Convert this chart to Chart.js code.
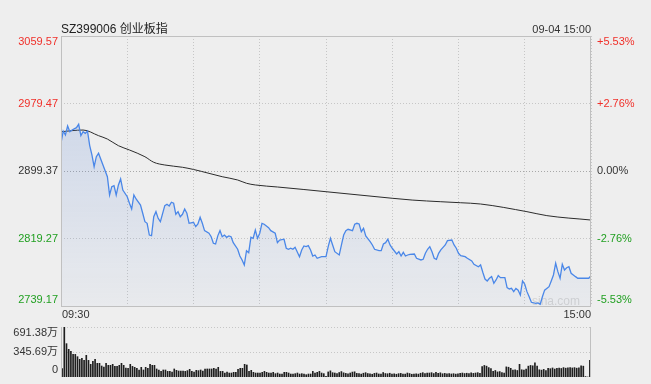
<!DOCTYPE html>
<html>
<head>
<meta charset="utf-8">
<script src="https://cdn.jsdelivr.net/npm/chart.js@4.4.0/dist/chart.umd.min.js"></script>
<style>
    body { margin: 0; background: #eeeeee; }
    #wrap { position: relative; width: 651px; height: 384px; }
    #wrap canvas { position: absolute; left: 0; top: 0; }
</style>
</head>
<body>
<div id="wrap">
    <canvas id="priceChart" width="651" height="384"></canvas>
    <canvas id="volChart" width="651" height="384"></canvas>
</div>
<script>
// Axis values
const prevClose = 2899.37;
const priceTicks = [3059.57, 2979.47, 2899.37, 2819.27, 2739.17];
const pctLabels = ['+5.53%', '+2.76%', '0.00%', '-2.76%', '-5.53%'];
const gridMinutes = [0, 30, 60, 90, 120, 150, 180, 210, 240]; // minutes since 09:30 (lunch break removed)
const timeLabels = ['09:30', '15:00'];
const volTicks = [691.38, 345.69, 0];
const volLabels = ['691.38万', '345.69万', '0'];

// Price line (minute index, price)
const priceTimes = [
    0, 1, 2, 3, 4, 5, 7, 8, 9, 10, 11, 12, 13, 14, 15, 16, 17, 19, 21, 22,
    23, 24, 25, 26, 27, 28, 30, 31, 32, 33, 34, 36, 37, 38, 39, 40, 41, 42, 43, 44,
    45, 47, 48, 49, 50, 51, 52, 53, 54, 55, 56, 57, 58, 60, 61, 62, 63, 64, 65, 67,
    68, 69, 70, 71, 72, 73, 74, 75, 76, 77, 78, 80, 81, 82, 83, 84, 85, 86, 87, 88,
    89, 90, 91, 92, 94, 95, 97, 98, 99, 101, 102, 103, 104, 105, 106, 108, 109, 110, 111, 112,
    113, 114, 115, 116, 118, 120, 121, 122, 123, 124, 126, 127, 128, 129, 130, 132, 133, 134, 135, 136,
    137, 138, 140, 141, 142, 144, 145, 146, 147, 148, 149, 150, 152, 153, 154, 155, 156, 157, 158, 160,
    161, 163, 164, 165, 166, 167, 168, 169, 170, 171, 172, 174, 175, 177, 178, 179, 180, 181, 183, 184,
    186, 187, 189, 190, 191, 192, 193, 194, 195, 196, 197, 198, 199, 201, 202, 203, 204, 205, 206, 207,
    208, 209, 210, 211, 212, 213, 215, 216, 217, 218, 219, 221, 222, 223, 224, 225, 226, 227, 228, 229,
    230, 231, 233, 234, 236, 237, 238, 239, 240
];
const priceValues = [
    2932.3, 2946.8, 2942.1, 2952.8, 2946.0, 2948.0, 2950.8, 2954.8, 2941.3, 2946.0, 2944.1, 2946.8, 2929.6, 2918.4, 2904.5, 2916.3, 2920.4, 2906.5, 2892.6, 2870.9,
    2880.8, 2882.0, 2870.9, 2882.8, 2889.9, 2876.8, 2868.9, 2861.1, 2854.3, 2870.9, 2866.2, 2859.0, 2849.2, 2839.2, 2837.3, 2823.4, 2822.6, 2845.1, 2851.1, 2843.2,
    2839.2, 2858.2, 2859.9, 2857.9, 2862.3, 2861.1, 2848.0, 2851.1, 2845.1, 2848.0, 2854.3, 2849.2, 2837.3, 2838.5, 2833.3, 2836.5, 2844.5, 2837.3, 2828.6, 2825.5,
    2821.4, 2813.6, 2812.8, 2822.4, 2828.6, 2821.4, 2823.4, 2820.7, 2822.4, 2821.4, 2814.3, 2806.5, 2798.5, 2793.8, 2787.9, 2804.8, 2802.4, 2820.7, 2819.5, 2829.4,
    2819.5, 2825.5, 2837.3, 2836.2, 2832.1, 2828.6, 2825.5, 2814.3, 2817.5, 2818.4, 2807.7, 2806.5, 2807.7, 2806.5, 2808.9, 2797.7, 2805.7, 2810.4, 2809.6, 2810.8,
    2805.7, 2798.5, 2799.7, 2795.8, 2797.7, 2797.7, 2809.6, 2819.5, 2811.6, 2803.6, 2799.7, 2811.6, 2823.4, 2828.6, 2830.2, 2828.6, 2836.2, 2837.3, 2836.5, 2827.4,
    2831.4, 2822.4, 2815.5, 2811.6, 2806.5, 2804.8, 2804.8, 2812.8, 2814.3, 2818.4, 2811.6, 2807.7, 2800.9, 2803.6, 2798.5, 2802.9, 2798.5, 2799.7, 2800.5, 2800.9,
    2795.8, 2793.8, 2794.6, 2801.7, 2806.5, 2809.6, 2803.6, 2795.8, 2794.6, 2801.7, 2805.7, 2811.6, 2816.7, 2817.5, 2811.6, 2807.7, 2801.7, 2798.9, 2797.7, 2795.8,
    2792.6, 2788.7, 2785.8, 2787.9, 2779.2, 2771.2, 2768.9, 2772.1, 2774.0, 2766.1, 2770.1, 2775.2, 2772.8, 2772.8, 2760.9, 2759.4, 2760.1, 2756.2, 2760.1, 2758.0,
    2752.3, 2768.9, 2765.0, 2756.2, 2750.2, 2743.6, 2742.4, 2742.8, 2741.2, 2750.2, 2758.0, 2762.1, 2768.9, 2776.0, 2789.9, 2779.9, 2772.1, 2788.7, 2781.9, 2784.6,
    2785.8, 2778.0, 2774.0, 2772.1, 2772.1, 2772.1, 2772.1, 2772.1, 2775.2
];

// Average price line
const avgTimes = [0, 10, 17, 21, 26, 31, 38, 42, 47, 55, 60, 67, 73, 80, 84, 88, 98, 110, 120, 150, 159, 172, 181, 190, 211, 220, 240];
const avgValues = [2946.0, 2948.0, 2941.3, 2937.3, 2929.4, 2924.3, 2916.3, 2909.7, 2906.5, 2903.8, 2901.2, 2896.6, 2892.6, 2888.7, 2884.8, 2882.8, 2880.4, 2877.4, 2874.8, 2867.0, 2864.9, 2862.9, 2861.7, 2860.2, 2851.1, 2846.4, 2841.2];

// Volume per minute (万), 09:30-11:30 then 13:01-15:00
const volMorning = [
    115, 691.38, 461, 383, 355, 313, 313, 281, 244, 258,
    230, 300, 230, 175, 217, 244, 189, 189, 152, 138,
    189, 161, 161, 175, 147, 147, 161, 189, 161, 124,
    120, 175, 147, 134, 120, 97, 134, 97, 134, 120,
    175, 161, 161, 111, 97, 78, 97, 97, 78, 78,
    69, 111, 92, 83, 83, 83, 78, 88, 106, 78,
    69, 92, 88, 97, 83, 111, 111, 111, 111, 120,
    111, 134, 78, 78, 55, 69, 55, 55, 65, 65,
    106, 120, 120, 175, 166, 78, 92, 65, 55, 55,
    55, 65, 78, 65, 55, 55, 65, 46, 55, 41,
    41, 65, 65, 55, 41, 41, 46, 55, 41, 46,
    41, 32, 41, 41, 78, 55, 65, 78, 55, 46,
    9
];
const volAfternoon = [
    70, 85, 60, 55, 48, 62, 75, 58, 50, 45,
    55, 68, 72, 50, 46, 40, 52, 60, 48, 44,
    38, 50, 55, 42, 40, 62, 48, 45, 52, 40,
    44, 38, 46, 50, 42, 40, 55, 48, 38, 42,
    45, 40, 52, 60, 48, 55, 55, 60, 48, 65,
    52, 58, 45, 50, 44, 48, 42, 46, 40, 45,
    50, 55, 48, 52, 46, 58, 50, 55, 60, 52,
    145, 160, 150, 130, 115, 80, 90, 70, 75, 60,
    55, 140, 135, 120, 95, 100, 90, 175, 100, 95,
    110, 150, 160, 155, 195, 150, 100, 95, 105, 90,
    120, 115, 125, 110, 120, 125, 118, 130, 122, 128,
    130, 125, 130, 122, 128, 155, 150, 6, 0, 230
];
const volumes = volMorning.concat(volAfternoon);

const FONT = 'Arial, "Liberation Sans", "Noto Sans CJK SC", sans-serif';
const RED = '#f0302a';
const GREEN = '#22a022';
const DARK = '#333333';
const GRID = '#c6c6c6';
const FRAME = '#c0c0c0';

function signColor(v) {
    if (v > prevClose) return RED;
    if (v < prevClose) return GREEN;
    return DARK;
}

// Frame, axis labels, title, watermark
const priceDecor = {
    id: 'priceDecor',
    beforeDatasetsDraw(chart) {
        const { ctx, chartArea: a } = chart;
        ctx.save();
        ctx.font = '12px ' + FONT;
        ctx.fillStyle = '#d2d2d2';
        ctx.textAlign = 'right';
        ctx.textBaseline = 'alphabetic';
        ctx.fillText('sina.com', a.right - 11, a.bottom - 1);
        ctx.restore();
    },
    afterDraw(chart) {
        const { ctx, chartArea: a, scales: { y } } = chart;
        ctx.save();
        ctx.strokeStyle = FRAME;
        ctx.lineWidth = 1;
        ctx.strokeRect(a.left + 0.5, a.top + 0.5, a.right - a.left - 1, a.bottom - a.top);

        ctx.font = '11px ' + FONT;
        ctx.textBaseline = 'middle';
        priceTicks.forEach((v, i) => {
            let py = y.getPixelForValue(v);
            if (i === 0) py += 6;
            if (i === priceTicks.length - 1) py -= 6;
            ctx.fillStyle = signColor(v);
            ctx.textAlign = 'right';
            ctx.fillText(v.toFixed(2), a.left - 3, py);
            ctx.textAlign = 'left';
            ctx.fillText(pctLabels[i], a.right + 6, py);
        });

        ctx.fillStyle = DARK;
        ctx.textAlign = 'left';
        ctx.fillText(timeLabels[0], a.left + 1, a.bottom + 9);
        ctx.textAlign = 'right';
        ctx.fillText(timeLabels[1], a.right, a.bottom + 9);
        ctx.fillText('09-04 15:00', a.right, a.top - 6);

        ctx.font = '12px ' + FONT;
        ctx.fillStyle = '#222222';
        ctx.textAlign = 'left';
        ctx.fillText('SZ399006 创业板指', a.left, a.top - 6);
        ctx.restore();
    }
};

const volDecor = {
    id: 'volDecor',
    afterDraw(chart) {
        const { ctx, chartArea: a, scales: { y } } = chart;
        ctx.save();
        ctx.strokeStyle = FRAME;
        ctx.lineWidth = 1;
        ctx.beginPath();
        ctx.moveTo(a.left + 0.5, a.top);
        ctx.lineTo(a.left + 0.5, a.bottom);
        ctx.moveTo(a.right - 0.5, a.top);
        ctx.lineTo(a.right - 0.5, a.bottom);
        ctx.stroke();

        ctx.font = '11px ' + FONT;
        ctx.textBaseline = 'middle';
        ctx.textAlign = 'right';
        ctx.fillStyle = DARK;
        volTicks.forEach((v, i) => {
            let py = y.getPixelForValue(v);
            if (i === 0) py += 6;
            if (i === volTicks.length - 1) py -= 7;
            ctx.fillText(volLabels[i], a.left - 3, py);
        });
        ctx.restore();
    }
};

new Chart(document.getElementById('priceChart'), {
    type: 'line',
    data: {
        datasets: [
            {
                label: '价格',
                data: priceTimes.map((t, i) => ({ x: t, y: priceValues[i] })),
                borderColor: '#4a87e8',
                borderWidth: 1.3,
                pointRadius: 0,
                tension: 0,
                fill: 'start',
                backgroundColor: (c) => {
                    const a = c.chart.chartArea;
                    if (!a) return 'rgba(0,0,0,0)';
                    const g = c.chart.ctx.createLinearGradient(0, a.top, 0, a.bottom);
                    g.addColorStop(0, 'rgba(70,120,215,0.24)');
                    g.addColorStop(1, 'rgba(70,120,215,0.03)');
                    return g;
                }
            },
            {
                label: '均价',
                data: avgTimes.map((t, i) => ({ x: t, y: avgValues[i] })),
                borderColor: '#2b2b2b',
                borderWidth: 1,
                pointRadius: 0,
                cubicInterpolationMode: 'monotone',
                fill: false
            }
        ]
    },
    options: {
        responsive: false,
        animation: false,
        devicePixelRatio: 1,
        layout: { padding: { left: 61, right: 60, top: 36, bottom: 78 } },
        plugins: { legend: { display: false }, tooltip: { enabled: false } },
        scales: {
            x: {
                type: 'linear',
                min: 0,
                max: 240,
                afterBuildTicks: s => { s.ticks = gridMinutes.map(v => ({ value: v })); },
                afterFit: s => { s.height = 0; },
                ticks: { display: false },
                grid: { color: GRID, drawTicks: false },
                border: { display: false, dash: [1, 2] }
            },
            y: {
                type: 'linear',
                min: priceTicks[priceTicks.length - 1],
                max: priceTicks[0],
                afterBuildTicks: s => { s.ticks = priceTicks.map(v => ({ value: v })); },
                afterFit: s => { s.width = 0; },
                ticks: { display: false },
                grid: {
                    color: c => (c.tick && c.tick.value === prevClose) ? '#a8a8a8' : GRID,
                    drawTicks: false
                },
                border: { display: false, dash: [1, 2] }
            }
        }
    },
    plugins: [priceDecor]
});

new Chart(document.getElementById('volChart'), {
    type: 'bar',
    data: {
        datasets: [{
            label: '成交量',
            data: volumes.map((v, i) => ({ x: i, y: v })),
            backgroundColor: '#1e1e1e',
            barThickness: 1
        }]
    },
    options: {
        responsive: false,
        animation: false,
        devicePixelRatio: 1,
        layout: { padding: { left: 61, right: 60, top: 327, bottom: 7 } },
        plugins: { legend: { display: false }, tooltip: { enabled: false } },
        scales: {
            x: {
                type: 'linear',
                min: -0.5,
                max: 240.5,
                offset: false,
                afterFit: s => { s.height = 0; },
                ticks: { display: false },
                grid: { display: false },
                border: { display: false }
            },
            y: {
                min: 0,
                max: volTicks[0],
                afterBuildTicks: s => { s.ticks = volTicks.slice(0, 2).map(v => ({ value: v })); },
                afterFit: s => { s.width = 0; },
                ticks: { display: false },
                grid: { color: GRID, drawTicks: false, lineWidth: 1 },
                border: { display: false, dash: [1, 2] }
            }
        }
    },
    plugins: [volDecor]
});
</script>
</body>
</html>
